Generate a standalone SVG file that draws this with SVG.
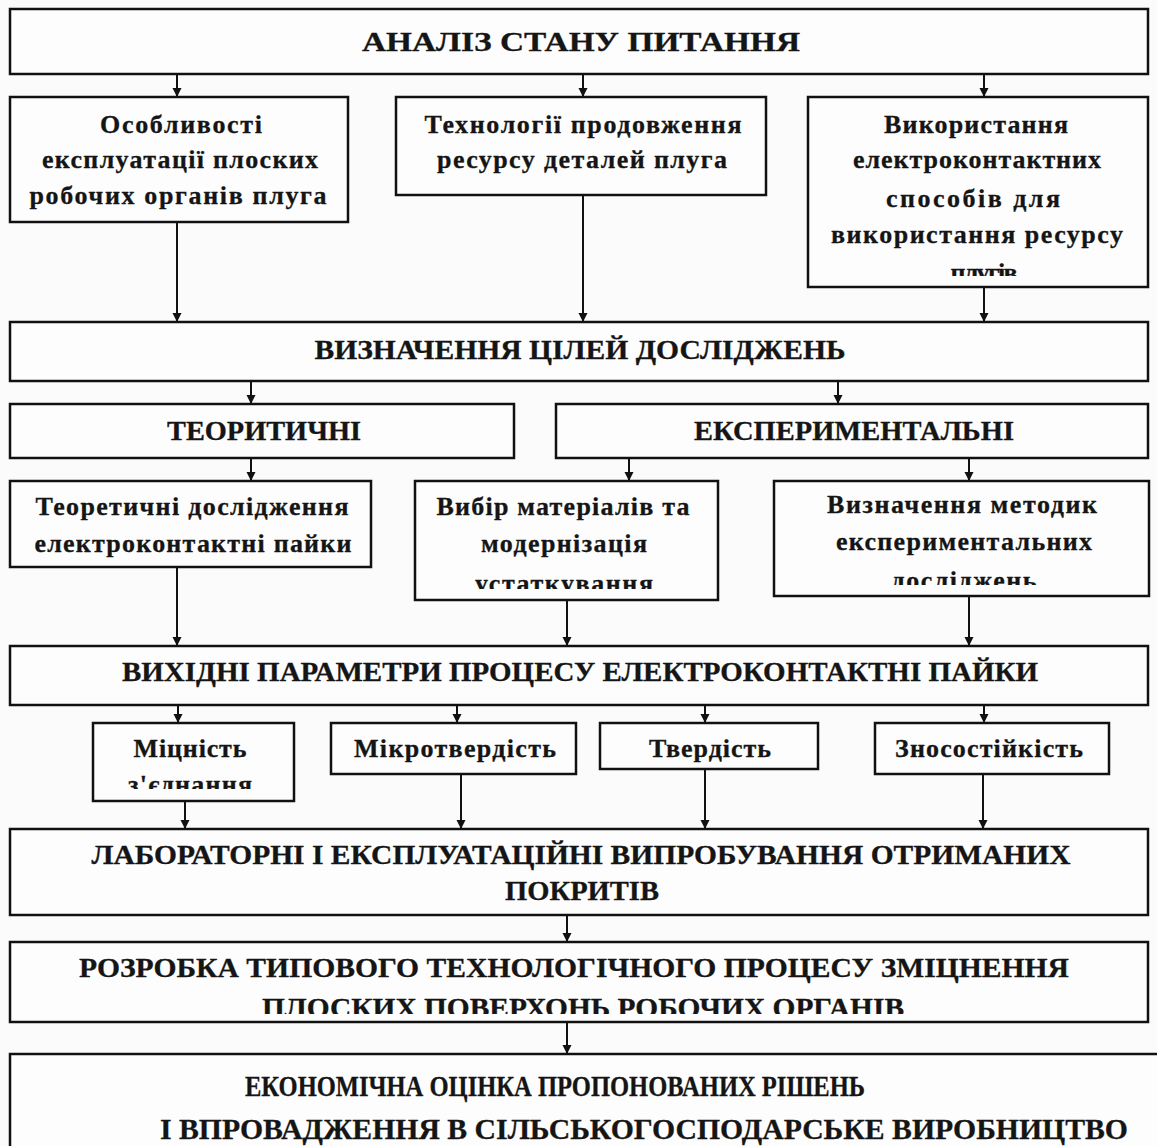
<svg xmlns="http://www.w3.org/2000/svg" width="1157" height="1146" viewBox="0 0 1157 1146">
<style>
.box{fill:#fdfdfd;stroke:#111;stroke-width:2.5}
.t{font-family:"Liberation Serif","Times New Roman",serif;font-weight:bold;fill:#151515;stroke:#151515;stroke-width:0.3;text-anchor:middle}
.h{font-size:27px}
.b{font-size:26px}
.c{font-size:30px}
.conn line{stroke:#111;stroke-width:2}
</style>
<defs>
<marker id="arr" markerUnits="userSpaceOnUse" markerWidth="10" markerHeight="10" refX="9" refY="4.5" orient="auto">
<path d="M0,0 L9,4.5 L0,9 z" fill="#111"/>
</marker>
<clipPath id="clipB3"><rect x="808" y="97" width="340" height="179"/></clipPath>
<clipPath id="clipE2"><rect x="414" y="481" width="304" height="108"/></clipPath>
<clipPath id="clipE3"><rect x="773" y="481" width="376" height="104"/></clipPath>
<clipPath id="clipG1"><rect x="93" y="723" width="201" height="66"/></clipPath>
<clipPath id="clipI"><rect x="10" y="942" width="1138" height="72"/></clipPath>
</defs>
<rect x="0" y="0" width="1157" height="1146" fill="#fbfbfb"/>

<g id="analiz">
<rect class="box" x="10" y="9" width="1138" height="65"/>
<text class="t h" x="581" y="51" textLength="438" lengthAdjust="spacingAndGlyphs">АНАЛІЗ СТАНУ ПИТАННЯ</text>
</g>

<g id="osoblyvosti">
<rect class="box" x="10" y="97" width="338" height="125"/>
<text class="t b" x="181" y="133" textLength="162" lengthAdjust="spacing">Особливості</text>
<text class="t b" x="180" y="168" textLength="276" lengthAdjust="spacing">експлуатації плоских</text>
<text class="t b" x="178" y="204" textLength="297" lengthAdjust="spacing">робочих органів плуга</text>
</g>

<g id="tekhnolohii">
<rect class="box" x="396" y="97" width="370" height="98"/>
<text class="t b" x="583" y="133" textLength="317" lengthAdjust="spacing">Технології продовження</text>
<text class="t b" x="582" y="168" textLength="290" lengthAdjust="spacing">ресурсу деталей плуга</text>
</g>

<g id="vykorystannia">
<rect class="box" x="808" y="97" width="340" height="190"/>
<g clip-path="url(#clipB3)">
<text class="t b" x="976" y="133" textLength="184" lengthAdjust="spacing">Використання</text>
<text class="t b" x="977" y="168" textLength="248" lengthAdjust="spacing">електроконтактних</text>
<text class="t b" x="973" y="207" textLength="174" lengthAdjust="spacing">способів для</text>
<text class="t b" x="977" y="243" textLength="292" lengthAdjust="spacing">використання ресурсу</text>
<text class="t b" x="984" y="281" textLength="67" lengthAdjust="spacing">плугів</text>
</g>
</g>

<g id="vyznachennia">
<rect class="box" x="10" y="322" width="1138" height="59"/>
<text class="t h" x="580" y="359" textLength="531" lengthAdjust="spacingAndGlyphs">ВИЗНАЧЕННЯ ЦІЛЕЙ  ДОСЛІДЖЕНЬ</text>
</g>

<g id="teorytychni">
<rect class="box" x="10" y="404" width="504" height="54"/>
<text class="t h" x="264" y="440" textLength="194" lengthAdjust="spacingAndGlyphs">ТЕОРИТИЧНІ</text>
</g>

<g id="eksperymentalni">
<rect class="box" x="556" y="404" width="592" height="54"/>
<text class="t h" x="854" y="440" textLength="320" lengthAdjust="spacingAndGlyphs">ЕКСПЕРИМЕНТАЛЬНІ</text>
</g>

<g id="teoretychni-doslidzhennia">
<rect class="box" x="10" y="481" width="361" height="86"/>
<text class="t b" x="192" y="515" textLength="313" lengthAdjust="spacing">Теоретичні дослідження</text>
<text class="t b" x="193" y="552" textLength="317" lengthAdjust="spacing">електроконтактні  пайки</text>
</g>

<g id="vybir">
<rect class="box" x="415" y="481" width="303" height="119"/>
<g clip-path="url(#clipE2)">
<text class="t b" x="563" y="515" textLength="253" lengthAdjust="spacing">Вибір матеріалів та</text>
<text class="t b" x="564" y="552" textLength="166" lengthAdjust="spacing">модернізація</text>
<text class="t b" x="564" y="592" textLength="178" lengthAdjust="spacing">устаткування</text>
</g>
</g>

<g id="metodyky">
<rect class="box" x="774" y="481" width="375" height="115"/>
<g clip-path="url(#clipE3)">
<text class="t b" x="962" y="513" textLength="270" lengthAdjust="spacing">Визначення методик</text>
<text class="t b" x="964" y="550" textLength="256" lengthAdjust="spacing">експериментальних</text>
<text class="t b" x="964" y="589" textLength="145" lengthAdjust="spacing">досліджень</text>
</g>
</g>

<g id="parametry">
<rect class="box" x="10" y="646" width="1138" height="59"/>
<text class="t h" x="580" y="681" textLength="916" lengthAdjust="spacingAndGlyphs">ВИХІДНІ ПАРАМЕТРИ ПРОЦЕСУ ЕЛЕКТРОКОНТАКТНІ ПАЙКИ</text>
</g>

<g id="mitsnist">
<rect class="box" x="93" y="723" width="201" height="78"/>
<g clip-path="url(#clipG1)">
<text class="t b" x="190" y="757" textLength="113" lengthAdjust="spacing">Міцність</text>
<text class="t b" x="190" y="793" textLength="124" lengthAdjust="spacing">з'єднання</text>
</g>
</g>

<g id="mikrotverdist">
<rect class="box" x="331" y="723" width="245" height="51"/>
<text class="t b" x="455" y="757" textLength="202" lengthAdjust="spacing">Мікротвердість</text>
</g>

<g id="tverdist">
<rect class="box" x="600" y="723" width="218" height="46"/>
<text class="t b" x="710" y="757" textLength="122" lengthAdjust="spacing">Твердість</text>
</g>

<g id="znosostiikist">
<rect class="box" x="875" y="723" width="234" height="51"/>
<text class="t b" x="989" y="757" textLength="188" lengthAdjust="spacing">Зносостійкість</text>
</g>

<g id="vyprobuvannia">
<rect class="box" x="10" y="829" width="1138" height="86"/>
<text class="t h" x="581" y="864" textLength="979" lengthAdjust="spacingAndGlyphs">ЛАБОРАТОРНІ І ЕКСПЛУАТАЦІЙНІ ВИПРОБУВАННЯ ОТРИМАНИХ</text>
<text class="t h" x="582" y="900" textLength="154" lengthAdjust="spacingAndGlyphs">ПОКРИТІВ</text>
</g>

<g id="rozrobka">
<rect class="box" x="10" y="942" width="1138" height="80"/>
<g clip-path="url(#clipI)">
<text class="t h" x="574" y="977" textLength="990" lengthAdjust="spacingAndGlyphs">РОЗРОБКА ТИПОВОГО ТЕХНОЛОГІЧНОГО ПРОЦЕСУ ЗМІЦНЕННЯ</text>
<text class="t h" x="583" y="1017" textLength="642" lengthAdjust="spacingAndGlyphs">ПЛОСКИХ ПОВЕРХОНЬ РОБОЧИХ ОРГАНІВ</text>
</g>
</g>

<g id="ekonomichna">
<rect class="box" x="10" y="1054" width="1170" height="120"/>
<text class="t c" x="555" y="1096" textLength="620" lengthAdjust="spacingAndGlyphs">ЕКОНОМІЧНА ОЦІНКА ПРОПОНОВАНИХ РІШЕНЬ</text>
<text class="t c" x="644" y="1139" textLength="968" lengthAdjust="spacingAndGlyphs">І ВПРОВАДЖЕННЯ В СІЛЬСЬКОГОСПОДАРСЬКЕ ВИРОБНИЦТВО</text>
</g>

<g id="connectors" class="conn">
<line x1="177" y1="74" x2="177" y2="97" marker-end="url(#arr)"/>
<line x1="583" y1="74" x2="583" y2="97" marker-end="url(#arr)"/>
<line x1="984" y1="74" x2="984" y2="97" marker-end="url(#arr)"/>
<line x1="177" y1="222" x2="177" y2="322" marker-end="url(#arr)"/>
<line x1="583" y1="195" x2="583" y2="322" marker-end="url(#arr)"/>
<line x1="984" y1="287" x2="984" y2="322" marker-end="url(#arr)"/>
<line x1="251" y1="381" x2="251" y2="404" marker-end="url(#arr)"/>
<line x1="838" y1="381" x2="838" y2="404" marker-end="url(#arr)"/>
<line x1="251" y1="458" x2="251" y2="481" marker-end="url(#arr)"/>
<line x1="629" y1="458" x2="629" y2="481" marker-end="url(#arr)"/>
<line x1="969" y1="458" x2="969" y2="481" marker-end="url(#arr)"/>
<line x1="177" y1="567" x2="177" y2="646" marker-end="url(#arr)"/>
<line x1="567" y1="600" x2="567" y2="646" marker-end="url(#arr)"/>
<line x1="969" y1="596" x2="969" y2="646" marker-end="url(#arr)"/>
<line x1="178" y1="705" x2="178" y2="723" marker-end="url(#arr)"/>
<line x1="457" y1="705" x2="457" y2="723" marker-end="url(#arr)"/>
<line x1="705" y1="705" x2="705" y2="723" marker-end="url(#arr)"/>
<line x1="984" y1="705" x2="984" y2="723" marker-end="url(#arr)"/>
<line x1="185" y1="801" x2="185" y2="829" marker-end="url(#arr)"/>
<line x1="461" y1="774" x2="461" y2="829" marker-end="url(#arr)"/>
<line x1="705" y1="769" x2="705" y2="829" marker-end="url(#arr)"/>
<line x1="983" y1="774" x2="983" y2="829" marker-end="url(#arr)"/>
<line x1="567" y1="915" x2="567" y2="942" marker-end="url(#arr)"/>
<line x1="567" y1="1022" x2="567" y2="1054" marker-end="url(#arr)"/>
</g>
</svg>
